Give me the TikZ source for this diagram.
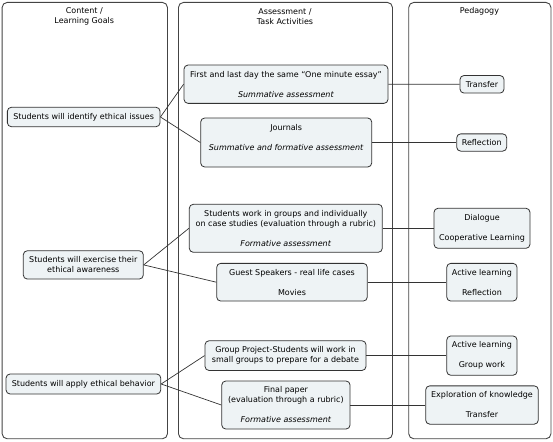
\documentclass[tikz,border=0pt]{standalone}
\usepackage{fontspec}
\setmainfont{DejaVu Sans}
\definecolor{boxfill}{HTML}{EEF3F5}
\definecolor{boxline}{HTML}{333333}
\definecolor{colline}{HTML}{444444}
\begin{document}
\begin{tikzpicture}[x=1pt,y=-1pt,
  every node/.style={font=\fontsize{8}{10}\selectfont, text=black},
  column/.style={draw=colline, line width=0.9pt, rounded corners=5pt, inner sep=0pt, anchor=north west},
  title/.style={align=center, inner sep=0pt},
  item/.style={draw=boxline, fill=boxfill, line width=0.8pt, rounded corners=4pt, align=center, inner sep=0pt},
  link/.style={draw=boxline, line width=0.7pt}]
\useasboundingbox (0,0) rectangle (553,441);
% columns
\node[column, minimum width=165.3pt, minimum height=436.3pt] (colA) at (1.7,2) {};
\node[column, minimum width=214pt, minimum height=436.3pt] (colB) at (178,2) {};
\node[column, minimum width=142.2pt, minimum height=436.3pt] (colC) at (408.3,2) {};
\node[title] (tA) at (84.3,16.5) {Content /\\Learning Goals};
\node[title] (tB) at (285,16.5) {Assessment /\\Task Activities};
\node[title] (tC) at (479.4,11) {Pedagogy};
% left column
\node[item, minimum width=152.7pt, minimum height=19.4pt] (ident) at (83.7,117) {Students will identify ethical issues};
\node[item, minimum width=120pt, minimum height=28.3pt] (exer) at (83.3,264.9) {Students will exercise their\\ethical awareness};
\node[item, minimum width=154.7pt, minimum height=20pt] (apply) at (83.4,384) {Students will apply ethical behavior};
% middle column
\node[item, minimum width=204pt, minimum height=38.3pt] (essay) at (286,84.2) {First and last day the same “One minute essay”\\[10pt]\textit{Summative assessment}};
\node[item, minimum width=171pt, minimum height=49pt] (journ) at (286.2,142.5) {Journals\\[10pt]\textit{Summative and formative assessment}\\\mbox{}};
\node[item, minimum width=193pt, minimum height=48pt] (cases) at (285.8,228.3) {Students work in groups and individually\\on case studies (evaluation through a rubric)\\[10pt]\textit{Formative assessment}};
\node[item, minimum width=150.6pt, minimum height=37.7pt] (guest) at (292,282.2) {Guest Speakers - real life cases\\[10pt]Movies};
\node[item, minimum width=161pt, minimum height=29.7pt] (group) at (285.5,355.6) {Group Project-Students will work in\\small groups to prepare for a debate};
\node[item, minimum width=128.3pt, minimum height=48pt] (final) at (285.9,405) {Final paper\\(evaluation through a rubric)\\[10pt]\textit{Formative assessment}};
% right column
\node[item, minimum width=44pt, minimum height=17.6pt] (transfer) at (482,84.3) {Transfer};
\node[item, minimum width=50pt, minimum height=17.3pt] (refl) at (481.7,142.5) {Reflection};
\node[item, minimum width=96pt, minimum height=40pt] (dial) at (482,228.3) {Dialogue\\[10pt]Cooperative Learning};
\node[item, minimum width=70.3pt, minimum height=37.7pt] (actrefl) at (481.9,282.2) {Active learning\\[10pt]Reflection};
\node[item, minimum width=70.3pt, minimum height=39.3pt] (actgroup) at (481.9,355.6) {Active learning\\[10pt]Group work};
\node[item, minimum width=112.6pt, minimum height=38.3pt] (explo) at (482,405) {Exploration of knowledge\\[10pt]Transfer};
% connectors
\draw[link] (ident.east) -- (essay.west);
\draw[link] (ident.east) -- (journ.west);
\draw[link] (exer.east) -- (cases.west);
\draw[link] (exer.east) -- (guest.west);
\draw[link] (apply.east) -- (group.west);
\draw[link] (apply.east) -- (final.west);
\draw[link] (essay.east) -- (transfer.west);
\draw[link] (journ.east) -- (refl.west);
\draw[link] (cases.east) -- (dial.west);
\draw[link] (guest.east) -- (actrefl.west);
\draw[link] (group.east) -- (actgroup.west);
\draw[link] (final.east) -- (explo.west);
\end{tikzpicture}
\end{document}
